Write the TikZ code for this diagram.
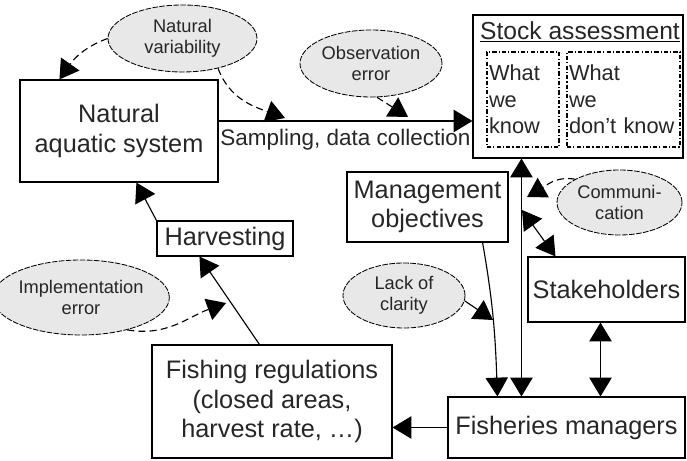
\documentclass[tikz,border=0pt]{standalone}
\usepackage{fontspec}
\setmainfont{Liberation Sans}
\usetikzlibrary{arrows.meta,positioning,shapes}

\begin{document}
\begin{tikzpicture}[
  line width=0.8pt,
  font=\fontsize{18}{21}\selectfont,
  text=black!85,
  box/.style={draw, align=center, inner sep=2pt},
  errell/.style={ellipse, draw, fill=gray!18, dash pattern=on 4pt off 1pt, line width=0.6pt, inner sep=0pt, align=center, font=\fontsize{13}{15}\selectfont},
  knowbox/.style={draw, dash pattern=on 3pt off 1.5pt on 0.8pt off 1.5pt, align=left, inner sep=0.05cm, minimum height=2.375cm, font=\fontsize{15.5}{19}\selectfont},
  flow/.style={-{Triangle[length=0.47cm,width=0.56cm]}},
  both/.style={{Triangle[length=0.47cm,width=0.56cm]}-{Triangle[length=0.47cm,width=0.56cm]}},
  error/.style={-{Triangle[length=0.47cm,width=0.56cm]}, dash pattern=on 5pt off 3pt},
]
\useasboundingbox (0,0) rectangle (17.175,11.525);

% Boxes
\node[box, minimum width=4.95cm, minimum height=2.55cm] (natsys) at (2.975, 8.25) {Natural\\aquatic system};
\node[box, minimum width=5.25cm, minimum height=3.575cm] (stock) at (14.45, 9.3625) {};
\node[box, minimum width=4.025cm, minimum height=1.75cm] (mgmt) at (10.6875, 6.35) {Management\\objectives};
\node[box, minimum width=3.925cm, minimum height=1.625cm] (stake) at (15.1625, 4.2875) {Stakeholders};
\node[box, minimum width=5.925cm, minimum height=1.525cm] (fishmgr) at (14.1625, 0.8375) {Fisheries managers};
\node[box, minimum width=6cm, minimum height=2.825cm] (fishreg) at (6.8, 1.4875) {Fishing regulations\\(closed areas,\\harvest rate, \dots)};
\node[box, minimum width=3.4cm, minimum height=0.875cm] (harvest) at (5.625, 5.5625) {Harvesting};

% Stock assessment contents
\node[anchor=base, inner sep=0pt, font=\fontsize{17.5}{19}\selectfont] (stocktitle) at (14.5, 10.525) {Stock assessment};
\draw[line width=1.4pt] ([yshift=-0.5pt]stocktitle.south west) -- ([yshift=-0.5pt]stocktitle.south east);
\node[knowbox, text width=1.7cm] (known) at (13.075, 9.0375) {What\\we\\know};
\node[knowbox, text width=2.725cm] (unknown) at (15.5875, 9.0375) {What\\we\\don't know};

% Sources of uncertainty
\node[errell, minimum width=3.725cm, minimum height=1.675cm] (natvar) at (4.5625, 10.5625) {Natural\\variability};
\node[errell, minimum width=3.55cm, minimum height=1.675cm] (obserr) at (9.275, 9.9375) {Observation\\error};
\node[errell, minimum width=3.125cm, minimum height=1.625cm] (comm) at (15.4875, 6.4625) {Communi-\\cation};
\node[errell, minimum width=3.05cm, minimum height=1.625cm] (lack) at (10.1, 4.1375) {Lack of\\clarity};
\node[errell, minimum width=3.7cm, minimum height=1.875cm] (implerr) at (2.025, 4.0875) {Implementation\\error};

% Connectors
\coordinate (sampstart) at ([yshift=0.25cm]natsys.east);
\draw[flow] (sampstart) -- node[below=2pt, font=\fontsize{16}{18}\selectfont] (samplabel) {Sampling, data collection} (sampstart -| stock.west);

\coordinate (varhit) at (7.125, 8.575);
\coordinate (obshit) at (10.2, 8.6);
\draw[error] (natvar.west) to[out=200,in=55] ([xshift=1cm]natsys.north west);
\draw[error] (natvar.-40) to[out=-70,in=160] (varhit);
\draw[error] (obserr.-80) -- (obshit);

\coordinate (vtop) at ([xshift=1.225cm]stock.south west);
\draw[both] (vtop) -- (vtop |- fishmgr.north);

\coordinate (commhit) at (13.175, 6.6);
\draw[error] (comm.north west) to[out=170,in=30] (commhit);

\coordinate (vstake) at (13.05, 6.275);
\draw[both] (vstake) -- ([xshift=0.7cm]stake.north west);

\coordinate (sbot) at ([xshift=-0.15cm]stake.south);
\draw[both] (sbot) -- (sbot |- fishmgr.north);

\draw[flow] ([xshift=-0.65cm]mgmt.south east) to[out=-80,in=92] ([xshift=1.25cm]fishmgr.north west);
\coordinate (lackhit) at (12.325, 3.525);
\draw[flow] (lack.-5) -- (lackhit);

\draw[flow] (fishmgr.west) -- (fishmgr.west -| fishreg.east);
\draw[flow] ([xshift=2.7cm]fishreg.north west) -- ([xshift=1.075cm]harvest.south west);
\draw[flow] (harvest.north west) -- ([xshift=2.925cm]natsys.south west);

\coordinate (implhit) at (5.65, 3.95);
\draw[error] (implerr.-35) to[out=-10,in=200] (implhit);

\end{tikzpicture}
\end{document}
